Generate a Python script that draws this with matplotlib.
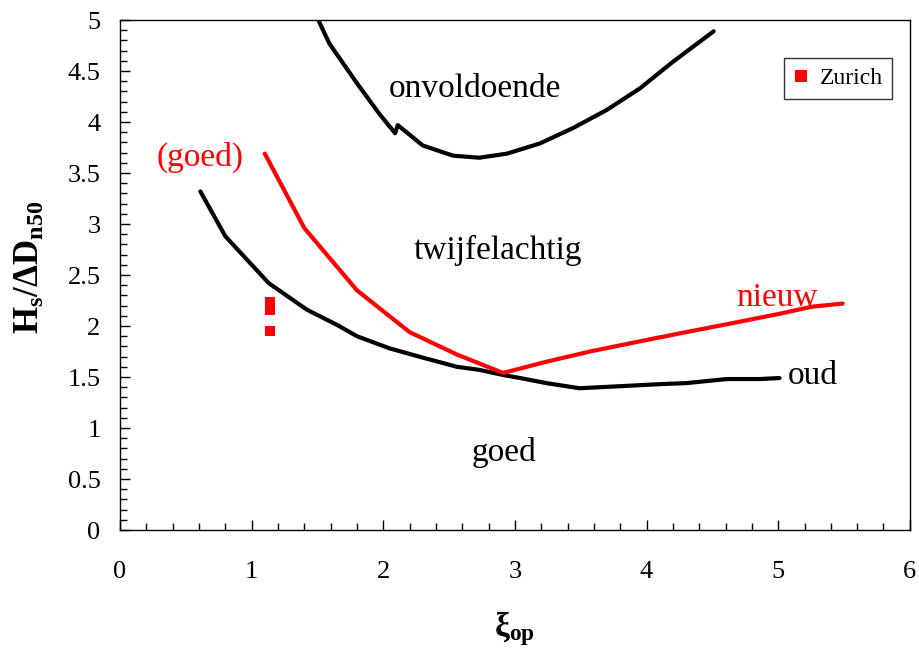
import matplotlib
matplotlib.use("Agg")
import matplotlib.pyplot as plt
from matplotlib.ticker import MultipleLocator

plt.rcParams['font.family'] = ['Liberation Serif', 'DejaVu Serif']
plt.rcParams['mathtext.fontset'] = 'custom'
plt.rcParams['mathtext.rm'] = 'Liberation Serif'
plt.rcParams['mathtext.it'] = 'Liberation Serif:italic'
plt.rcParams['mathtext.bf'] = 'Liberation Serif:bold'

# Upper boundary (onvoldoende)
upper_x = [1.51, 1.59, 1.80, 1.97, 2.09, 2.11, 2.30, 2.53, 2.73, 2.94, 3.19, 3.44, 3.70, 3.95, 4.20, 4.51]
upper_y = [4.99, 4.77, 4.38, 4.08, 3.89, 3.97, 3.77, 3.67, 3.65, 3.69, 3.79, 3.94, 4.12, 4.33, 4.59, 4.89]

# Old criterion (oud)
oud_x = [0.61, 0.80, 1.13, 1.42, 1.65, 1.80, 2.05, 2.30, 2.56, 2.73, 2.91, 3.04, 3.24, 3.49, 3.80, 4.10, 4.30, 4.61, 4.86, 5.01]
oud_y = [3.32, 2.88, 2.42, 2.16, 2.01, 1.90, 1.78, 1.69, 1.60, 1.57, 1.52, 1.49, 1.44, 1.39, 1.41, 1.43, 1.44, 1.48, 1.48, 1.49]

# New criterion (nieuw)
nieuw_x = [1.10, 1.40, 1.80, 2.20, 2.56, 2.91, 3.24, 3.57, 3.95, 4.30, 4.66, 5.01, 5.26, 5.49]
nieuw_y = [3.69, 2.96, 2.35, 1.94, 1.72, 1.54, 1.65, 1.75, 1.85, 1.94, 2.03, 2.12, 2.19, 2.22]

# Zurich data points
zurich_x = [1.14, 1.14, 1.14]
zurich_y = [2.24, 2.16, 1.95]

x_ticks = [0, 1, 2, 3, 4, 5, 6]
y_ticks = [0, 0.5, 1, 1.5, 2, 2.5, 3, 3.5, 4, 4.5, 5]
y_tick_labels = ['0', '0.5', '1', '1.5', '2', '2.5', '3', '3.5', '4', '4.5', '5']

fig = plt.figure(figsize=(9.19, 6.52), dpi=100)
ax = fig.add_axes([0.1306, 0.1871, 0.8594, 0.7822])

ax.plot(upper_x, upper_y, color='black', lw=3, solid_capstyle='round')
ax.plot(oud_x, oud_y, color='black', lw=3, solid_capstyle='round')
ax.plot(nieuw_x, nieuw_y, color='#ff0000', lw=3, solid_capstyle='round')
ax.plot(zurich_x, zurich_y, linestyle='none', marker='s', ms=7, color='#ff0000',
        markeredgewidth=0, label='Zurich')

ax.set_xlim(0, 6)
ax.set_ylim(0, 5)
ax.set_xticks(x_ticks)
ax.set_xticklabels([str(v) for v in x_ticks])
ax.set_yticks(y_ticks)
ax.set_yticklabels(y_tick_labels)
ax.xaxis.set_minor_locator(MultipleLocator(0.2))
ax.yaxis.set_minor_locator(MultipleLocator(0.1))
ax.tick_params(which='major', direction='in', length=7, width=1, labelsize=19)
ax.tick_params(which='minor', direction='in', length=5, width=1)
ax.tick_params(axis='x', which='major', pad=22)
ax.tick_params(axis='y', which='major', pad=14)
for s in ax.spines.values():
    s.set_linewidth(1)

ax.set_xlabel(r'$\mathbf{\xi_{op}}$', fontsize=24, labelpad=19)
ax.set_ylabel(r'$\mathbf{H_s/\Delta D_{n50}}$', fontsize=25)
ax.yaxis.set_label_coords(-0.093, 0.515)

ax.text(2.70, 4.33, 'onvoldoende', fontsize=24, ha='center', va='center')
ax.text(2.87, 2.74, 'twijfelachtig', fontsize=24, ha='center', va='center')
ax.text(2.92, 0.76, 'goed', fontsize=24, ha='center', va='center')
ax.text(0.61, 3.65, '(goed)', fontsize=24, ha='center', va='center', color='#ff0000')
ax.text(4.99, 2.28, 'nieuw', fontsize=24, ha='center', va='center', color='#ff0000')
ax.text(5.26, 1.51, 'oud', fontsize=24, ha='center', va='center')

leg = ax.legend(loc='upper right', bbox_to_anchor=(0.978, 0.925), fontsize=17,
                frameon=True, fancybox=False, edgecolor='black', handlelength=0.6,
                handletextpad=0.5, borderpad=0.4, markerscale=1.3, borderaxespad=0)
leg.get_frame().set_linewidth(1)

fig.savefig('out.png', dpi=100)
